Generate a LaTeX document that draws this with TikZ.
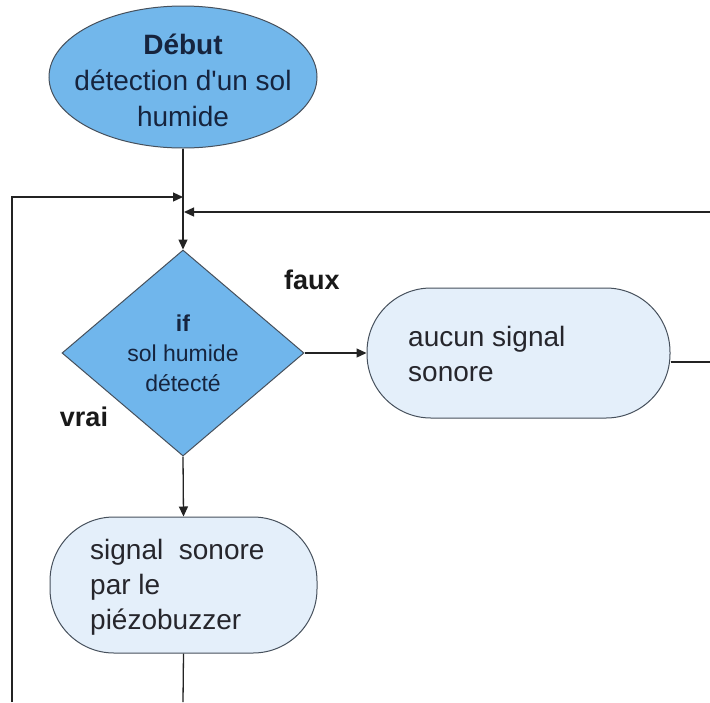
\documentclass[tikz,border=0pt]{standalone}
\usepackage{fontspec}
\setmainfont{Liberation Sans}
% same family without the TeX quote mapping, for a straight apostrophe
\newfontfamily\plainsans{Liberation Sans}
\usetikzlibrary{shapes.geometric,arrows.meta}

\definecolor{startblue}{RGB}{114,183,235}
\definecolor{decblue}{RGB}{112,182,236}
\definecolor{boxfill}{RGB}{228,239,250}
\definecolor{edgegray}{RGB}{70,80,92}
\definecolor{inkline}{RGB}{35,35,35}
\definecolor{navytext}{RGB}{22,36,62}
\definecolor{boxtext}{RGB}{38,38,44}

\tikzset{
  shapeedge/.style={draw=edgegray, line width=1pt},
  startnode/.style={shapeedge, ellipse, fill=startblue, inner sep=0pt,
    minimum width=268, minimum height=142},
  decnode/.style={shapeedge, diamond, fill=decblue, inner sep=0pt,
    minimum width=242, minimum height=206, align=center, text=navytext,
    font=\fontsize{23}{30}\selectfont},
  actnode/.style={shapeedge, rectangle, fill=boxfill, rounded corners=64pt},
  maintext/.style={inner sep=0pt, text=navytext, align=center,
    font=\fontsize{28}{36}\selectfont},
  acttext/.style={inner sep=0pt, text=boxtext, align=left, anchor=west,
    font=\fontsize{28}{35}\selectfont},
  branchlabel/.style={inner sep=0pt, anchor=base, text=black!90,
    font=\fontsize{27}{32}\selectfont\bfseries},
  flow/.style={draw=inkline, line width=1.3pt},
  flowarrow/.style={flow, -{Triangle[length=10pt,width=9pt]}},
}

\begin{document}
\begin{tikzpicture}[x=1pt,y=-1pt]
  \useasboundingbox[fill=white] (0,0) rectangle (710,702);

  % start of the program
  \node[startnode] (start) at (183,77) {};
  \node[maintext] (starttext) at (183,80) {\textbf{Début}\\détection d{\plainsans '}un sol\\humide};

  % test on the soil sensor
  \node[decnode] (dec) at (183,353) {\textbf{if}\\sol humide\\détecté};

  % the two actions
  \node[actnode, minimum width=303, minimum height=130] (aucun) at (518.5,353) {};
  \node[acttext] (aucuntext) at (408,354) {aucun signal\\sonore};

  \node[actnode, minimum width=267, minimum height=136] (buzz) at (183.5,585) {};
  \node[acttext] (buzztext) at (90,587) {signal\ \ sonore\\par le\\piézobuzzer};

  % branch labels
  \node[branchlabel] (faux) at (312,289) {faux};
  \node[branchlabel] (vrai) at (84,426) {vrai};

  % junctions of the loop-back lines
  \coordinate (joinleft) at (183,197);
  \coordinate (joinright) at (184,212);
  \coordinate (leftcorner) at (12,197);
  \coordinate (leftend) at (12,702);
  \coordinate (rightend) at (710,212);
  \coordinate (aucunend) at (710,362);
  \coordinate (buzzend) at (183,702);

  % connectors
  \draw[flowarrow] (start.south) -- (dec.north);
  \draw[flowarrow] (leftend) -- (leftcorner) -- (joinleft);
  \draw[flowarrow] (rightend) -- (joinright);
  \draw[flowarrow] (dec.east) -- (aucun.west);
  \draw[flowarrow] (dec.south) -- (buzz.north);
  \draw[flow] (aucun.east |- aucunend) -- (aucunend);
  \draw[flow] (buzz.south) -- (buzzend);
\end{tikzpicture}
\end{document}
